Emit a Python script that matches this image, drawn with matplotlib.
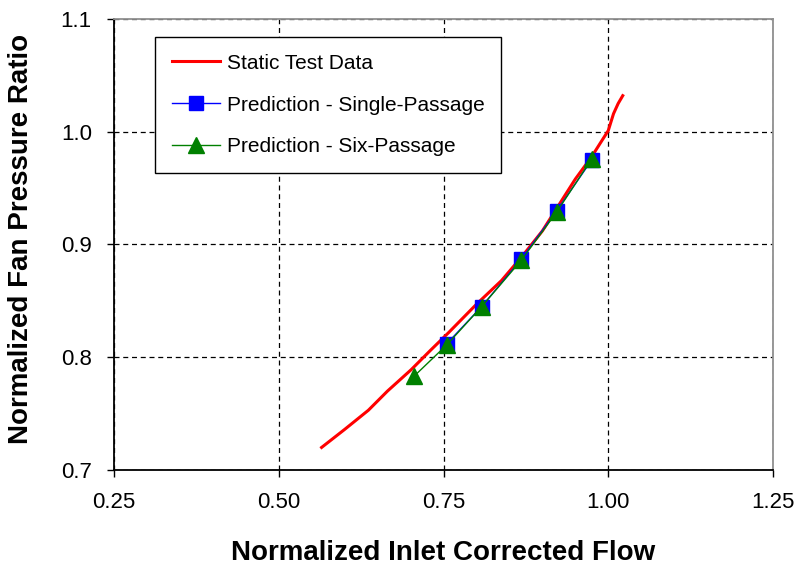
import matplotlib
matplotlib.use("Agg")
import matplotlib.pyplot as plt

plt.rcParams['font.family'] = ['Liberation Sans', 'DejaVu Sans']

# Static test data (measured speedline)
static_flow = [0.565, 0.600, 0.636, 0.665, 0.701, 0.730, 0.758, 0.800,
               0.838, 0.870, 0.900, 0.925, 0.950, 0.975, 0.988, 1.000, 1.008,
               1.015, 1.022]
static_pr = [0.720, 0.736, 0.753, 0.770, 0.789, 0.806, 0.822, 0.847,
             0.868, 0.890, 0.912, 0.935, 0.958, 0.978, 0.990, 1.001, 1.016,
             1.025, 1.032]

# CFD predictions
single_flow = [0.755, 0.808, 0.868, 0.922, 0.975]
single_pr = [0.812, 0.845, 0.887, 0.930, 0.975]

six_flow = [0.705, 0.755, 0.808, 0.868, 0.922, 0.975]
six_pr = [0.783, 0.811, 0.845, 0.886, 0.929, 0.976]

x_ticks = [0.25, 0.50, 0.75, 1.00, 1.25]
y_ticks = [0.7, 0.8, 0.9, 1.0, 1.1]

fig = plt.figure(figsize=(8, 5.66), dpi=100)
ax = fig.add_axes([114 / 800, 1 - 470 / 566, (773 - 114) / 800, (470 - 19) / 566])

ax.plot(static_flow, static_pr, color='#ff0000', lw=2.2, label='Static Test Data', zorder=3)
ax.plot(single_flow, single_pr, color='#0000ff', lw=1.0, marker='s', ms=10.5,
        markerfacecolor='#0000ff', markeredgecolor='#0000ff',
        label='Prediction - Single-Passage', zorder=4)
ax.plot(six_flow, six_pr, color='#008000', lw=1.0, marker='^', ms=11,
        markerfacecolor='#008000', markeredgecolor='#008000',
        label='Prediction - Six-Passage', zorder=5)

ax.set_xlim(0.25, 1.25)
ax.set_ylim(0.7, 1.1)
ax.set_xticks(x_ticks)
ax.set_xticklabels([f"{v:.2f}" for v in x_ticks])
ax.set_yticks(y_ticks)
ax.set_yticklabels([f"{v:.1f}" for v in y_ticks])
ax.tick_params(axis='both', labelsize=16, direction='out', length=5, width=1,
               colors='black', pad=11)

ax.grid(True, color='black', linestyle=(0, (4, 3)), linewidth=0.9)
ax.set_axisbelow(True)

for side in ['left', 'bottom']:
    ax.spines[side].set_color('black')
    ax.spines[side].set_linewidth(1.3)
for side in ['top', 'right']:
    ax.spines[side].set_color('#909090')
    ax.spines[side].set_linewidth(1.3)

ax.set_xlabel('Normalized Inlet Corrected Flow', fontsize=20, fontweight='bold')
ax.set_ylabel('Normalized Fan Pressure Ratio', fontsize=20, fontweight='bold')
ax.xaxis.set_label_coords(0.5, -(540 - 470) / 451)
ax.yaxis.set_label_coords(-(114 - 34) / 659, 0.5 + 6 / 451)

leg = ax.legend(loc='upper left', bbox_to_anchor=((155 - 114) / 659, (470 - 37) / 451),
                fontsize=15, frameon=True, fancybox=False, framealpha=1,
                edgecolor='black', borderpad=0.8, labelspacing=1.1,
                handlelength=2.3, handletextpad=0.35, borderaxespad=0)
leg.get_frame().set_linewidth(1.0)

fig.savefig('out.png', dpi=100)
